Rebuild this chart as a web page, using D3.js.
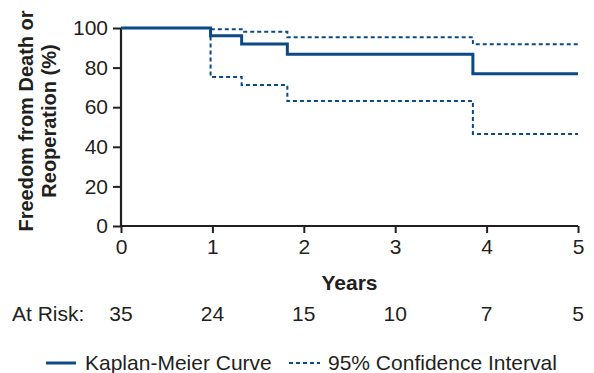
<!DOCTYPE html>
<html>
<head>
<meta charset="utf-8">
<script src="https://cdn.jsdelivr.net/npm/d3@7"></script>
<style>
  html, body { margin: 0; padding: 0; background: #fff; }
  svg text { font-family: "Liberation Sans", Arial, Helvetica, sans-serif; fill: #231f20; }
</style>
</head>
<body>
<svg id="chart" width="594" height="373"></svg>
<script>
// Data
const times = [0, 0.98, 1.32, 1.82, 3.85, 5];
const kmValues = [100, 96.1, 91.9, 86.7, 76.9, 76.9];
const upperCI = [100, 99.4, 98.1, 95.3, 91.8, 91.8];
const lowerCI = [100, 75.3, 71.2, 63.1, 46.5, 46.5];
const xTicks = [0, 1, 2, 3, 4, 5];
const yTicks = [0, 20, 40, 60, 80, 100];
const atRisk = [35, 24, 15, 10, 7, 5];

const blue = "#0b4a85";
const axisColor = "#231f20";

const svg = d3.select("#chart");
const x = d3.scaleLinear().domain([0, 5]).range([121, 578]);
const y = d3.scaleLinear().domain([0, 100]).range([226, 28]);

// Axes
const yAxis = svg.append("g")
  .attr("transform", `translate(${x(0)},0)`)
  .call(d3.axisLeft(y).tickValues(yTicks).tickFormat(d3.format("d")).tickSize(8).tickPadding(5));
const xAxis = svg.append("g")
  .attr("transform", `translate(0,${y(0)})`)
  .call(d3.axisBottom(x).tickValues(xTicks).tickFormat(d3.format("d")).tickSize(7).tickPadding(6));

[yAxis, xAxis].forEach(g => {
  g.select(".domain").attr("stroke", axisColor).attr("stroke-width", 2.2);
  g.selectAll(".tick line").attr("stroke", axisColor).attr("stroke-width", 2);
  g.selectAll(".tick text").attr("font-size", 21).attr("fill", axisColor)
    .style("font-family", '"Liberation Sans", Arial, sans-serif');
});
xAxis.select(".domain").attr("d", `M${x(0)},0H${x(5)}`);
yAxis.select(".domain").attr("d", `M0,${y(0)}V${y(100)}`);

// Lines
const line = vals => d3.line()
  .x((d, i) => x(times[i]))
  .y(d => y(d))
  .curve(d3.curveStepAfter)(vals);

svg.append("path").attr("d", line(upperCI)).attr("fill", "none")
  .attr("stroke", blue).attr("stroke-width", 2).attr("stroke-dasharray", "4,3");
svg.append("path").attr("d", line(lowerCI)).attr("fill", "none")
  .attr("stroke", blue).attr("stroke-width", 2).attr("stroke-dasharray", "4,3");
svg.append("path").attr("d", line(kmValues)).attr("fill", "none")
  .attr("stroke", blue).attr("stroke-width", 3);

// Y title
const yTitle = svg.append("text")
  .attr("transform", `translate(33,121) rotate(-90)`)
  .attr("text-anchor", "middle")
  .attr("font-size", 20).attr("font-weight", "bold");
yTitle.append("tspan").attr("x", 0).attr("y", 0).text("Freedom from Death or");
yTitle.append("tspan").attr("x", 0).attr("y", 23).text("Reoperation (%)");

// X title
svg.append("text").attr("x", x(2.5)).attr("y", 290)
  .attr("text-anchor", "middle").attr("font-size", 21).attr("font-weight", "bold")
  .text("Years");

// At risk
svg.append("text").attr("x", 12).attr("y", 321).attr("font-size", 21).text("At Risk:");
svg.selectAll("text.risk").data(atRisk).enter().append("text")
  .attr("class", "risk")
  .attr("x", (d, i) => x(xTicks[i])).attr("y", 321)
  .attr("text-anchor", "middle").attr("font-size", 21)
  .text(d => d);

// Legend
const lg = svg.append("g");
lg.append("line").attr("x1", 46).attr("x2", 76).attr("y1", 363).attr("y2", 363)
  .attr("stroke", blue).attr("stroke-width", 3);
lg.append("text").attr("x", 85).attr("y", 370).attr("font-size", 21).text("Kaplan-Meier Curve");
lg.append("line").attr("x1", 289).attr("x2", 320).attr("y1", 363).attr("y2", 363)
  .attr("stroke", blue).attr("stroke-width", 2).attr("stroke-dasharray", "4,3");
lg.append("text").attr("x", 328).attr("y", 370).attr("font-size", 21).text("95% Confidence Interval");
</script>
</body>
</html>
